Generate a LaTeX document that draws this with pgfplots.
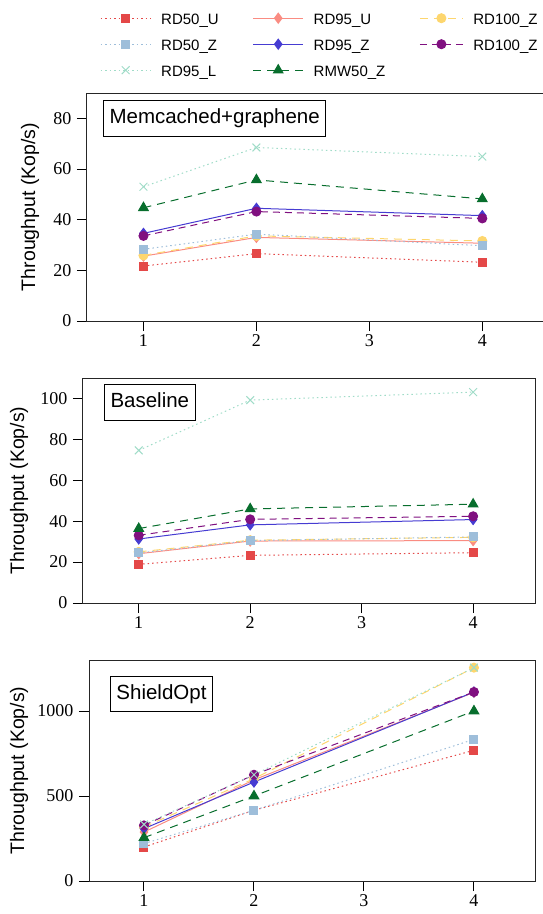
\documentclass[border=0pt]{standalone}
\usepackage{fontspec}
\setmainfont{Liberation Sans}
\newfontfamily\seriffont{Liberation Serif}
\usepackage{pgfplots}
\pgfplotsset{compat=1.18}

\definecolor{cA}{RGB}{228,72,72}
\definecolor{cB}{RGB}{158,190,218}
\definecolor{cC}{RGB}{160,220,200}
\definecolor{cD}{RGB}{250,140,130}
\definecolor{cE}{RGB}{70,60,210}
\definecolor{cF}{RGB}{8,110,45}
\definecolor{cG}{RGB}{253,214,110}
\definecolor{cH}{RGB}{128,16,128}

\tikzset{
 boxtitle/.style={draw=black, line width=1pt, fill=white, anchor=north west, inner xsep=6pt, inner ysep=8pt, text height=15pt, text depth=4.5pt, font=\fontsize{20.5}{21}\selectfont},
}
\pgfplotsset{
 myax/.style={
  scale only axis, xmin=0.5, xmax=4.555, ymin=0,
  xtick={1,2,3,4},
  tick pos=left, tick align=outside, major tick length=10pt,
  tick style={black, line width=1pt},
  axis line style={black!85, line width=1pt},
  ticklabel style={font=\seriffont\fontsize{18}{18}\selectfont},
  yticklabel style={xshift=-2pt},
  /pgf/number format/assume math mode=true,
  /pgf/number format/1000 sep={},
  scaled y ticks=false,
  ylabel={Throughput (Kop/s)},
  ylabel style={font=\fontsize{19.5}{20}\selectfont, anchor=center},
 },
 longleg/.style={legend image code/.code={\draw[mark repeat=2,mark phase=2,##1] plot coordinates {(0pt,0pt) (25pt,0pt) (50pt,0pt)};}},
 shortleg/.style={legend image code/.code={\draw[mark repeat=2,mark phase=2,##1] plot coordinates {(0pt,0pt) (21.5pt,0pt) (43pt,0pt)};}},
 s50u/.style={color=cA, line width=1pt, dash pattern=on 1.5pt off 3pt, mark=square*, mark size=4pt, mark options={solid}},
 s95u/.style={color=cD, line width=1pt, solid, mark=diamond*, mark size=5pt, mark options={solid}},
 s100y/.style={color=cG, line width=1pt, dash pattern=on 8pt off 6pt, mark=*, mark size=4.5pt, mark options={solid}},
 s50z/.style={color=cB, line width=1pt, dash pattern=on 1.5pt off 3pt, mark=square*, mark size=4pt, mark options={solid}},
 s95z/.style={color=cE, line width=1pt, solid, mark=diamond*, mark size=5pt, mark options={solid}},
 s100p/.style={color=cH, line width=1pt, dash pattern=on 7pt off 5pt, mark=*, mark size=4.5pt, mark options={solid}},
 s95l/.style={color=cC, line width=1pt, dash pattern=on 1.5pt off 3pt, mark=x, mark size=5.5pt, mark options={solid}},
 smw/.style={color=cF, line width=1pt, dash pattern=on 8pt off 6pt, mark=triangle*, mark size=5.5pt, mark options={solid}},
}

\begin{document}
\begin{tikzpicture}
\path[use as bounding box] (0pt,0pt) rectangle (542pt,-914pt);

% Panel 1
\begin{axis}[myax, width=458pt, height=228pt, at={(87pt,-321pt)}, anchor=south west,
  ymax=90, ytick={0,20,40,60,80},
  ylabel style={at={(axis description cs:-0.1245,0.5)}},
  legend columns=3, legend cell align=left,
  legend style={at={(axis description cs:0.0284,1.3684)}, anchor=north west, draw=none, fill=none,
    inner sep=0pt, inner xsep=0pt, inner ysep=0pt, row sep=8pt, column sep=10pt,
    nodes={inner sep=0pt, text height=15pt, text depth=3pt, font=\fontsize{15}{15}\selectfont},
    /tikz/every even column/.append style={column sep=34pt}},
  longleg,
]
\addplot[s50u] coordinates {(1,21.7) (2,26.6) (4,23.2)};
\addlegendentry{RD50\_U}
\addplot[s95u] coordinates {(1,25.6) (2,33.0) (4,30.7)};
\addlegendentry{RD95\_U}
\addplot[s100y, shortleg] coordinates {(1,25.9) (2,33.6) (4,31.6)};
\addlegendentry{RD100\_Z}
\addplot[s50z] coordinates {(1,28.3) (2,34.3) (4,29.7)};
\addlegendentry{RD50\_Z}
\addplot[s95z] coordinates {(1,34.6) (2,44.5) (4,41.6)};
\addlegendentry{RD95\_Z}
\addplot[s100p, shortleg] coordinates {(1,33.6) (2,43.2) (4,40.5)};
\addlegendentry{RD100\_Z}
\addplot[s95l] coordinates {(1,53.0) (2,68.5) (4,64.9)};
\addlegendentry{RD95\_L}
\addplot[smw] coordinates {(1,44.7) (2,55.7) (4,48.2)};
\addlegendentry{RMW50\_Z}
\node[boxtitle] at (axis description cs:0.035,0.969) {Memcached+graphene};
\end{axis}

% Panel 2
\begin{axis}[myax, width=452pt, height=225pt, at={(83pt,-603pt)}, anchor=south west,
  ymax=110, ytick={0,20,40,60,80,100},
  ylabel style={at={(axis description cs:-0.1416,0.5)}},
]
\addplot[s50u] coordinates {(1,18.9) (2,23.3) (4,24.6)};
\addplot[s95u] coordinates {(1,24.1) (2,30.3) (4,30.5)};
\addplot[s100y] coordinates {(1,25.0) (2,30.7) (4,32.1)};
\addplot[s50z] coordinates {(1,24.5) (2,30.5) (4,32.3)};
\addplot[s95z] coordinates {(1,31.3) (2,38.2) (4,40.8)};
\addplot[s100p] coordinates {(1,33.1) (2,40.9) (4,42.4)};
\addplot[s95l] coordinates {(1,74.6) (2,99.2) (4,103.1)};
\addplot[smw] coordinates {(1,36.4) (2,46.0) (4,48.3)};
\node[boxtitle] at (axis description cs:0.0465,0.973) {Baseline};
\end{axis}

% Panel 3
\begin{axis}[myax, width=446pt, height=221pt, at={(89pt,-881pt)}, anchor=south west,
  ymax=1300, ytick={0,500,1000},
  ylabel style={at={(axis description cs:-0.157,0.5)}},
]
\addplot[s50u] coordinates {(1,200) (2,416) (4,769)};
\addplot[s95u] coordinates {(1,288) (2,595) (4,1110)};
\addplot[s100y] coordinates {(1,318) (2,602) (4,1255)};
\addplot[s50z] coordinates {(1,220) (2,416) (4,833)};
\addplot[s95z] coordinates {(1,308) (2,582) (4,1112)};
\addplot[s100p] coordinates {(1,327) (2,625) (4,1112)};
\addplot[s95l] coordinates {(1,333) (2,625) (4,1255)};
\addplot[smw] coordinates {(1,255) (2,500) (4,1000)};
\node[boxtitle] at (axis description cs:0.047,0.928) {ShieldOpt};
\end{axis}
\end{tikzpicture}
\end{document}
